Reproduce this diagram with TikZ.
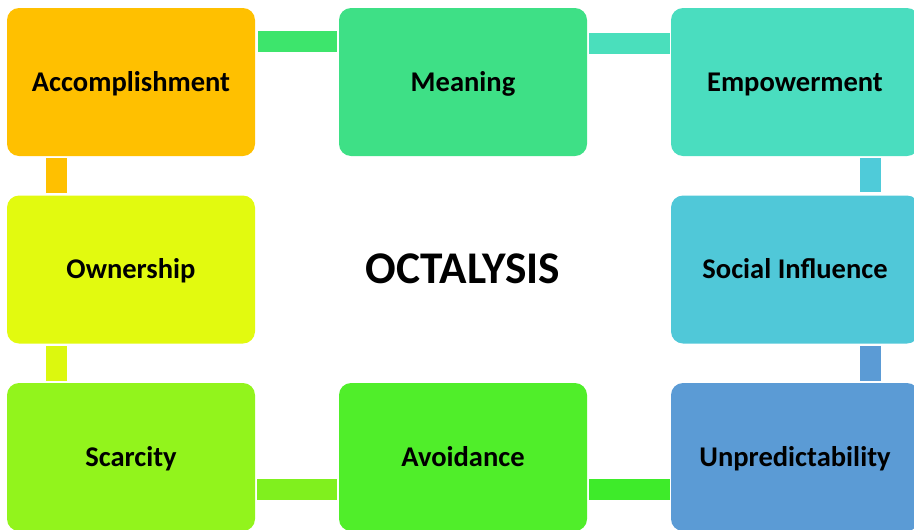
\documentclass[tikz,border=0pt]{standalone}
\usepackage{fontspec}
\setmainfont{Carlito}
\usetikzlibrary{calc}

\definecolor{accC}{RGB}{255,192,0}
\definecolor{meanC}{RGB}{62,224,134}
\definecolor{empC}{RGB}{74,221,191}
\definecolor{socC}{RGB}{80,200,216}
\definecolor{unpC}{RGB}{91,155,213}
\definecolor{avoC}{RGB}{80,238,42}
\definecolor{scarC}{RGB}{146,244,28}
\definecolor{ownC}{RGB}{226,250,15}

\tikzset{
  card/.style={draw=none, rounded corners=9pt, inner sep=0pt,
    minimum width=186pt, minimum height=111pt,
    text height=13.8pt, text depth=0pt,
    font=\fontsize{21.4}{25}\selectfont\bfseries},
  bar/.style={line width=15.5pt}
}

\begin{document}
\begin{tikzpicture}[x=0.75pt,y=0.75pt,yscale=-1,xscale=1]
\useasboundingbox (0,0) rectangle (914,529);
\clip (0,0) rectangle (914,529);

%Shape: Rounded Rect, top row
\node[card, fill=accC] (acc) at (131,82) {Accomplishment};
\node[card, fill=meanC] (mean) at (463,82) {Meaning};
\node[card, fill=empC] (emp) at (795,82) {Empowerment};
%Shape: Rounded Rect, middle row
\node[card, fill=ownC] (own) at (131,269.5) {Ownership};
\node[card, fill=socC] (soc) at (795,269.5) {Social Influence};
%Shape: Rounded Rect, bottom row
\node[card, fill=scarC] (scar) at (131,457) {Scarcity};
\node[card, fill=avoC] (avo) at (463,457) {Avoidance};
\node[card, fill=unpC] (unp) at (795,457) {Unpredictability};

% Text Node
\node[font=\fontsize{34}{40}\selectfont\bfseries] (title) at (463,269) {OCTALYSIS};

%Straight Lines, links round the ring
\draw[bar, color={rgb,255:red,61;green,229;blue,108}] ($(acc.north east)+(3,34)$) -- ($(mean.north west)+(-2,34)$);
\draw[bar, color={rgb,255:red,74;green,223;blue,188}] ($(mean.north east)+(2,35.5)$) -- ($(emp.north west)+(-1,35.5)$);
\draw[bar, color={rgb,255:red,79;green,203;blue,217}] ($(emp.south west)+(200,2)$) -- ($(soc.north west)+(200,-3)$);
\draw[bar, color=unpC] ($(soc.south west)+(200,2)$) -- ($(unp.north west)+(200,-2)$);
\draw[bar, color={rgb,255:red,62;green,235;blue,42}] ($(unp.north west)+(-1,107)$) -- ($(avo.north east)+(2,107)$);
\draw[bar, color={rgb,255:red,128;green,240;blue,30}] ($(avo.north west)+(-2,107)$) -- ($(scar.north east)+(2,107)$);
\draw[bar, color={rgb,255:red,220;green,248;blue,14}] ($(scar.north west)+(50,-2)$) -- ($(own.south west)+(50,2)$);
\draw[bar, color=accC] ($(own.north west)+(50,-2)$) -- ($(acc.south west)+(50,2)$);

\end{tikzpicture}
\end{document}
